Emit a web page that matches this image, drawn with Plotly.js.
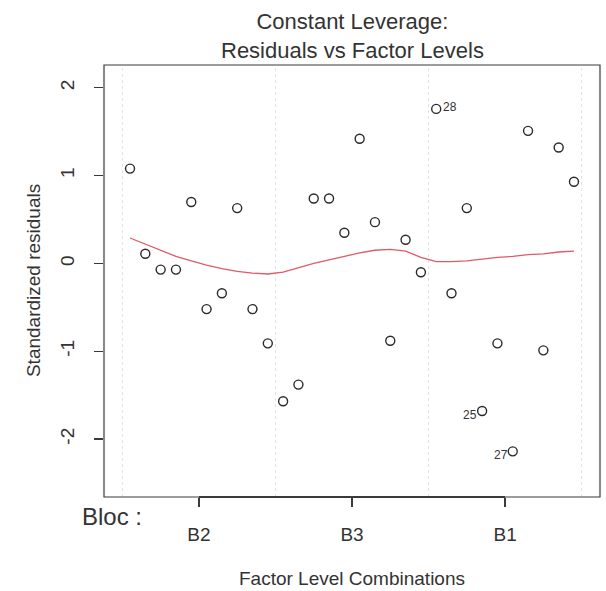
<!DOCTYPE html>
<html>
<head>
<meta charset="utf-8">
<script src="https://cdn.plot.ly/plotly-3.0.1.min.js"></script>
<style>
  html, body { margin: 0; padding: 0; background: #ffffff; }
  #chart { width: 606px; height: 591px; }
</style>
</head>
<body>
<div id="chart"></div>
<script>
// Factor levels, in plotting order, and number of observations per level
const blocs = ['B2', 'B3', 'B1'];
const obsPerBloc = [10, 10, 10];

// Standardized residuals, in plotting order (grouped by Bloc)
const residuals = [
  1.08, 0.11, -0.07, -0.07, 0.70, -0.52, -0.34, 0.63, -0.52, -0.91,
  -1.57, -1.38, 0.74, 0.74, 0.35, 1.42, 0.47, -0.88, 0.27, -0.10,
  1.76, -0.34, 0.63, -1.68, -0.91, -2.14, 1.51, -0.99, 1.32, 0.93
];

// Lowess smooth of the residuals, at the same positions
const smoothFit = [
  0.29, 0.22, 0.15, 0.08, 0.03, -0.02, -0.06, -0.09, -0.11, -0.12,
  -0.10, -0.05, 0.00, 0.04, 0.08, 0.12, 0.15, 0.16, 0.14, 0.07,
  0.02, 0.02, 0.03, 0.05, 0.07, 0.08, 0.10, 0.11, 0.13, 0.14
];

// Flagged observations: plotting position -> observation number
const flaggedPos = [21, 24, 26];
const flaggedIds = ['28', '25', '27'];
const flaggedSide = ['right', 'left', 'left'];

const yTicks = [-2, -1, 0, 1, 2];

// x positions 1..n
const xs = residuals.map((_, i) => i + 1);

// Level centres and level boundaries along x
const centres = [];
const bounds = [0.5];
let start = 1;
obsPerBloc.forEach(n => {
  centres.push(start + (n - 1) / 2);
  start += n;
  bounds.push(start - 0.5);
});
const nTot = start - 1;

const ink = '#333333';
const font = 'Liberation Sans, Arial, Helvetica, sans-serif';

const traces = [
  {
    x: xs, y: residuals, type: 'scatter', mode: 'markers',
    marker: { symbol: 'circle-open', size: 9, color: '#2a2a2a', line: { width: 1.4, color: '#2a2a2a' } },
    hoverinfo: 'x+y', showlegend: false
  },
  {
    x: xs, y: smoothFit, type: 'scatter', mode: 'lines',
    line: { color: '#df5a66', width: 1.3 },
    showlegend: false
  }
];

// Dotted separators between factor levels
const shapes = bounds.map(b => ({
  type: 'line', xref: 'x', yref: 'paper', x0: b, x1: b, y0: 0, y1: 1,
  line: { color: '#e2e2e2', width: 1, dash: 'dot' }, layer: 'below'
}));
// Plot frame
shapes.push({
  type: 'rect', xref: 'paper', yref: 'paper', x0: 0, x1: 1, y0: 0, y1: 1,
  line: { color: '#3a3a3a', width: 1.2 }
});
// Bottom axis line, from first to last level tick
shapes.push({
  type: 'line', xref: 'x', yref: 'paper',
  x0: centres[0], x1: centres[centres.length - 1], y0: 0, y1: 0,
  line: { color: '#3a3a3a', width: 2 }
});

const annotations = flaggedPos.map((p, k) => ({
  x: p, y: residuals[p - 1], xref: 'x', yref: 'y',
  text: flaggedIds[k], showarrow: false,
  xanchor: flaggedSide[k] === 'right' ? 'left' : 'right',
  yanchor: 'middle',
  xshift: flaggedSide[k] === 'right' ? 5 : -3,
  yshift: flaggedSide[k] === 'right' ? 2 : -4,
  font: { family: font, size: 12, color: ink }
}));

annotations.push(
  // main title, two lines
  { xref: 'paper', yref: 'paper', x: 0.5, y: 1.068, xanchor: 'center', yanchor: 'middle',
    text: 'Constant Leverage:<br>Residuals vs Factor Levels', showarrow: false,
    font: { family: font, size: 22, color: ink } },
  { xref: 'paper', yref: 'paper', x: 0.08, y: -0.046, xanchor: 'right', yanchor: 'middle',
    text: 'Bloc :', showarrow: false, font: { family: font, size: 24, color: ink } },
  { xref: 'paper', yref: 'paper', x: 0.5, y: -0.188, xanchor: 'center', yanchor: 'middle',
    text: 'Factor Level Combinations', showarrow: false, font: { family: font, size: 19, color: ink } },
  { xref: 'paper', yref: 'paper', x: -0.143, y: 0.5, xanchor: 'center', yanchor: 'middle', textangle: -90,
    text: 'Standardized residuals', showarrow: false, font: { family: font, size: 19, color: ink } }
);

const layout = {
  width: 606, height: 591,
  paper_bgcolor: '#ffffff', plot_bgcolor: '#ffffff',
  margin: { l: 104, r: 6, t: 65, b: 94 },
  xaxis: {
    range: [-0.7, nTot + 1.7], tickvals: centres, ticktext: blocs,
    ticks: 'outside', ticklen: 9, tickwidth: 1.2, tickcolor: '#3a3a3a',
    showgrid: false, zeroline: false, showline: false,
    ticklabelstandoff: 11,
    tickfont: { family: font, size: 19, color: ink }
  },
  yaxis: {
    range: [-2.66, 2.26], tickvals: yTicks, ticktext: yTicks.map(String),
    ticks: 'outside', ticklen: 9, tickwidth: 1.2, tickcolor: '#3a3a3a',
    tickangle: -90,
    showgrid: false, zeroline: false, showline: false,
    ticklabelstandoff: 12,
    tickfont: { family: font, size: 19, color: ink }
  },
  shapes: shapes,
  annotations: annotations
};

Plotly.newPlot('chart', traces, layout, { displayModeBar: false, staticPlot: true });
</script>
</body>
</html>
